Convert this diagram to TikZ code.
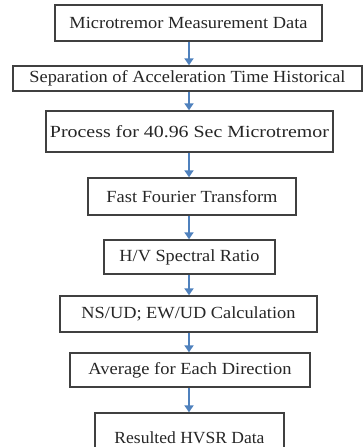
\documentclass[tikz,border=0pt]{standalone}
\usepackage{fontspec}
\setmainfont{Liberation Serif}
\usetikzlibrary{arrows.meta}
\definecolor{boxgray}{HTML}{404040}
\definecolor{arrowblue}{HTML}{4F81BD}
\definecolor{txtgray}{HTML}{262626}
\newcommand{\fitw}[2]{\resizebox{#1pt}{\height}{#2}}
\begin{document}
\begin{tikzpicture}[x=1pt,y=-1pt,
  box/.style={draw=boxgray, line width=1.4pt, inner sep=0pt, text=txtgray, font=\fontsize{17}{19}\selectfont},
  flow/.style={draw=arrowblue, line width=2pt, -{Triangle[length=7pt,width=9pt]}}]
\useasboundingbox (0,0) rectangle (363,447);
\clip (0,0) rectangle (363,447);
\node[box, minimum width=267pt, minimum height=36pt] (n1) at (188.5,23) {\fitw{238}{Microtremor Measurement Data}};
\node[box, minimum width=349pt, minimum height=25pt] (n2) at (187.5,78.5) {\fitw{316}{Separation of Acceleration Time Historical}};
\node[box, minimum width=287pt, minimum height=41pt] (n3) at (189.5,131.5) {\fitw{279}{Process for 40.96 Sec Microtremor}};
\node[box, minimum width=208pt, minimum height=37pt] (n4) at (192,196.5) {\fitw{171}{Fast Fourier Transform}};
\node[box, minimum width=171pt, minimum height=34pt] (n5) at (189.5,257) {\fitw{140}{H/V Spectral Ratio}};
\node[box, minimum width=257pt, minimum height=36pt] (n6) at (188.5,314) {\fitw{214}{NS/UD; EW/UD Calculation}};
\node[box, minimum width=240pt, minimum height=34pt] (n7) at (190,370) {\fitw{203}{Average for Each Direction}};
\node[box, minimum width=189pt, minimum height=50pt] (n8) at (189.5,438) {\fitw{150}{Resulted HVSR Data}};
\draw[flow] (n1.south -| 189,0) -- (n2.north -| 189,0);
\draw[flow] (n2.south -| 189,0) -- (n3.north -| 189,0);
\draw[flow] (n3.south -| 189,0) -- (n4.north -| 189,0);
\draw[flow] (n4.south -| 189,0) -- (n5.north -| 189,0);
\draw[flow] (n5.south -| 189,0) -- (n6.north -| 189,0);
\draw[flow] (n6.south -| 189,0) -- (n7.north -| 189,0);
\draw[flow] (n7.south -| 189,0) -- (n8.north -| 189,0);
\end{tikzpicture}
\end{document}
